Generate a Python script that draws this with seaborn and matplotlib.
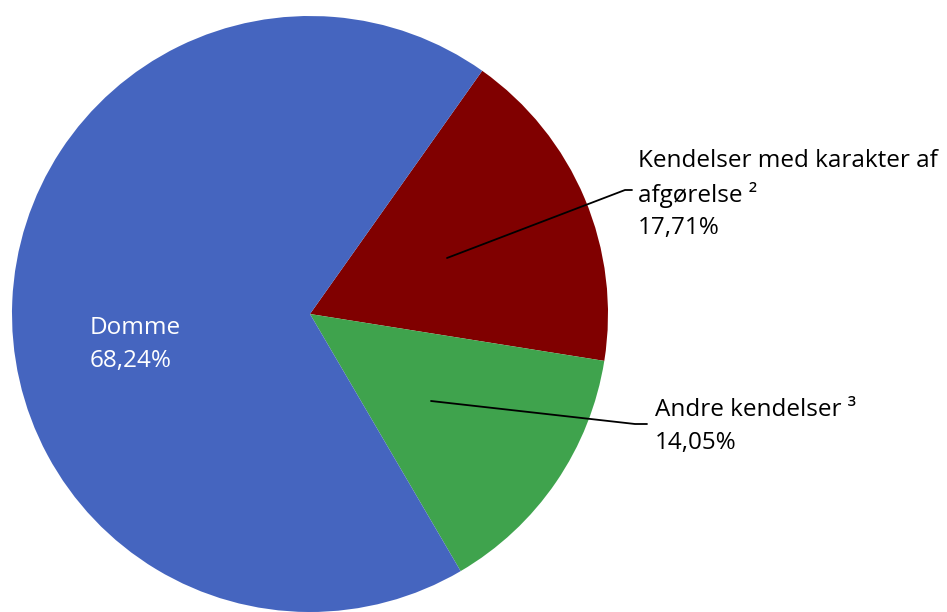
import matplotlib
matplotlib.use("Agg")
import matplotlib.pyplot as plt
import seaborn as sns

# Data
categories = ["Kendelser med karakter af\nafgørelse ²", "Andre kendelser ³", "Domme"]
shares = [17.71, 14.05, 68.24]
colors = ["#800000", "#3FA34D", "#4565BF"]

sns.set_style("white")
plt.rcParams['font.family'] = ['Open Sans', 'DejaVu Sans']
plt.rcParams['text.color'] = 'black'

fig = plt.figure(figsize=(9.47, 6.12), dpi=100)
ax = fig.add_axes([0, 0, 1, 1])

# pie drawn in pixel-like coordinates (y up)
cx, cy, r = 310, 612 - 314, 298
ax.pie(shares, colors=colors, startangle=54.7, counterclock=False,
       center=(cx, cy), radius=r, wedgeprops=dict(linewidth=0))
ax.set_xlim(0, 947)
ax.set_ylim(0, 612)
ax.set_aspect("equal")
ax.axis("off")

def fmt(v):
    return f"{v:.2f}".replace(".", ",") + "%"

fs = 17.5
# Red slice label with leader line
ax.plot([447, 625, 632], [612 - 258, 612 - 190, 612 - 190], color="black", lw=1.3)
ax.text(638, 612 - 161, "Kendelser med karakter af", fontsize=fs, va="center", ha="left")
ax.text(638, 612 - 195, "afgørelse ²", fontsize=fs, va="center", ha="left")
ax.text(638, 612 - 228, fmt(shares[0]), fontsize=fs, va="center", ha="left")

# Green slice label with leader line
ax.plot([431, 635, 647], [612 - 401, 612 - 424, 612 - 424], color="black", lw=1.3)
ax.text(655, 612 - 410, categories[1], fontsize=fs, va="center", ha="left")
ax.text(655, 612 - 443, fmt(shares[1]), fontsize=fs, va="center", ha="left")

# Blue slice label inside
ax.text(90, 612 - 328, categories[2], fontsize=fs, va="center", ha="left", color="white")
ax.text(90, 612 - 361, fmt(shares[2]), fontsize=fs, va="center", ha="left", color="white")

fig.savefig("out.png", dpi=100)
